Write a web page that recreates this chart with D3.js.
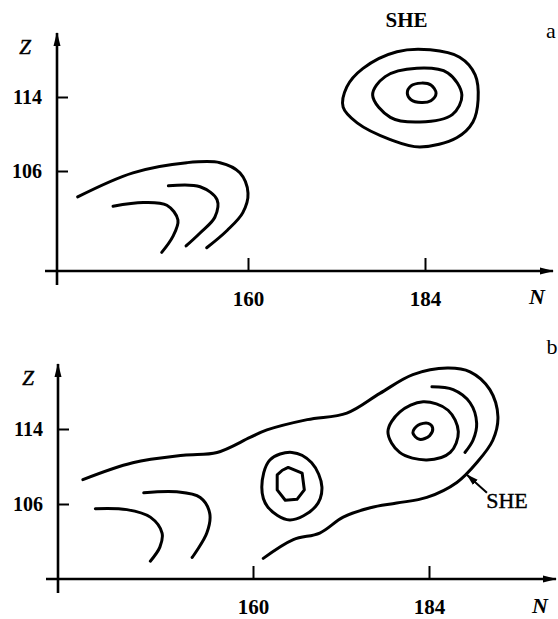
<!DOCTYPE html>
<html>
<head>
<meta charset="utf-8">
<script src="https://cdn.jsdelivr.net/npm/d3@7"></script>
<style>
  html, body { margin: 0; padding: 0; background: #fff; }
  svg { display: block; }
  text { font-family: "Liberation Serif", "DejaVu Serif", serif; fill: #000; }
</style>
</head>
<body>
<svg id="chart" width="558" height="619"></svg>
<script>
// ---- Data (N = neutron number, Z = proton number) ----
const nTicks = [160, 184];
const zTicks = [106, 114];

// Panel a: contours
const aLeft1 = [[136.9,103.2],[144.4,105.8],[151.7,106.9],[156.2,106.9],[158.9,105.8],[160.0,103.6],[159.3,101.5],[157.2,99.6],[154.4,97.7]];
const aLeft2 = [[149.2,104.4],[153.5,104.3],[155.8,102.9],[155.5,101.0],[153.5,99.3],[151.6,97.9]];
const aLeft3 = [[141.7,102.2],[145.8,102.6],[149.0,102.3],[150.5,100.7],[149.8,98.9],[148.3,97.2]];
const aIslandOuter = [[173.4,115.1],[175.6,117.1],[180.2,118.9],[184.7,119.1],[188.7,118.3],[190.8,116.4],[191.2,113.7],[190.5,111.3],[188.3,109.6],[183.3,108.6],[179.3,109.4],[174.8,111.2],[172.9,112.9]];
const aIslandMiddle = [[176.9,114.2],[178.6,116.2],[182.9,117.1],[187.1,116.6],[189.0,114.2],[187.7,112.1],[183.3,111.3],[179.3,111.8]];
const aIslandInner = [[181.6,114.4],[182.1,115.2],[183.5,115.5],[184.8,115.3],[185.5,114.4],[184.8,113.6],[183.5,113.4],[182.1,113.7]];

// Panel b: contours
const bEnvelope = [[136.8,108.6],[143.6,110.4],[150.5,111.2],[155.1,111.5],[159.6,113.1],[161.9,113.9],[167.4,115.0],[172.8,115.7],[177.3,117.8],[181.8,119.8],[186.5,120.5],[189.6,120.1],[192.3,118.2],[193.4,115.3],[192.7,112.8],[190.5,110.4],[187.8,108.3],[183.7,106.7],[179.6,106.1],[176.0,105.6],[172.3,104.6],[169.1,102.9],[165.5,102.2],[161.4,100.2]];
const bLeft2 = [[145.1,107.2],[149.6,107.3],[152.8,106.7],[154.1,105.0],[153.7,102.9],[151.7,100.3]];
const bLeft3 = [[138.5,105.5],[142.8,105.4],[146.0,104.6],[147.6,102.9],[147.3,101.4],[146.0,99.9]];
const bMidOuter = [[161.2,107.8],[162.3,110.7],[165.3,111.5],[168.0,110.4],[169.4,107.8],[168.5,105.7],[165.0,104.3],[162.0,105.7]];
const bMidInner = [[164.0,109.6],[164.8,109.9],[166.7,109.3],[167.0,107.5],[166.0,106.5],[164.4,106.4],[163.3,107.5],[163.3,109.1]];
const bRightOuter = [[178.4,113.7],[180.0,115.8],[183.2,116.9],[186.6,116.0],[188.0,113.7],[186.9,111.5],[183.7,110.7],[180.0,111.5]];
const bRightInner = [[181.8,113.6],[182.5,114.4],[183.9,114.6],[184.5,114.1],[184.1,113.3],[182.7,112.9]];
const bRightArc = [[184.4,118.5],[187.3,118.2],[189.6,116.8],[190.5,114.6],[190.0,112.8],[188.9,111.5]];
const bSheArrow = [[191.9,107.2],[189.2,109.1]];

// ---- Drawing ----
const svg = d3.select("#chart");

const defs = svg.append("defs");
defs.append("marker").attr("id", "axArrow")
  .attr("viewBox", "0 0 14 8").attr("refX", 13).attr("refY", 4)
  .attr("markerWidth", 14).attr("markerHeight", 8)
  .attr("markerUnits", "userSpaceOnUse").attr("orient", "auto")
  .append("path").attr("d", "M0,0.5 L14,4 L0,7.5 Z").attr("fill", "#000");
defs.append("marker").attr("id", "smallArrow")
  .attr("viewBox", "0 0 12 8").attr("refX", 11).attr("refY", 4)
  .attr("markerWidth", 12).attr("markerHeight", 8)
  .attr("markerUnits", "userSpaceOnUse").attr("orient", "auto")
  .append("path").attr("d", "M0,0.5 L12,4 L0,7.5 Z").attr("fill", "#000");

const panels = [
  { id: "a", xr: [248, 425], yr: [171, 97], axX: 57, axY: 271,
    yTop: 33, yBot: 285, xLeft: 45, xRight: 553,
    zLabel: [25, 47], nLabel: [537, 296], letter: [551, 30],
    contours: [aLeft1, aLeft2, aLeft3], closed: [aIslandOuter, aIslandMiddle, aIslandInner] },
  { id: "b", xr: [253, 429], yr: [504, 429], axX: 58, axY: 579,
    yTop: 364, yBot: 593, xLeft: 46, xRight: 556,
    zLabel: [28, 378], nLabel: [540, 605], letter: [552, 346],
    contours: [bEnvelope, bLeft2, bLeft3, bRightArc], closed: [bMidOuter, bRightOuter, bRightInner], poly: [bMidInner] }
];

const openCurve = d3.curveCatmullRom.alpha(0.5);
const closedCurve = d3.curveCatmullRomClosed.alpha(0.5);

panels.forEach(p => {
  const x = d3.scaleLinear().domain([160, 184]).range(p.xr);
  const y = d3.scaleLinear().domain([106, 114]).range(p.yr);
  const g = svg.append("g");

  // axes lines with arrows
  g.append("line").attr("x1", p.axX).attr("y1", p.yBot).attr("x2", p.axX).attr("y2", p.yTop)
    .attr("stroke", "#000").attr("stroke-width", 2.6).attr("marker-end", "url(#axArrow)");
  g.append("line").attr("x1", p.xLeft).attr("y1", p.axY).attr("x2", p.xRight).attr("y2", p.axY)
    .attr("stroke", "#000").attr("stroke-width", 2.6).attr("marker-end", "url(#axArrow)");

  // y axis ticks (inward) and labels
  const yAxis = d3.axisLeft(y).tickValues(zTicks).tickSizeInner(-11).tickSizeOuter(0).tickPadding(15);
  const yg = g.append("g").attr("transform", `translate(${p.axX},0)`).call(yAxis);
  yg.select(".domain").remove();
  yg.selectAll(".tick line").attr("stroke", "#000").attr("stroke-width", 2);
  yg.selectAll(".tick text").attr("font-family", "Liberation Serif").attr("font-size", 20)
    .attr("font-weight", "bold").attr("fill", "#000").attr("dy", "0.34em");

  // x axis ticks (upward) and labels
  const xAxis = d3.axisBottom(x).tickValues(nTicks).tickSizeInner(-13).tickSizeOuter(0).tickPadding(20);
  const xg = g.append("g").attr("transform", `translate(0,${p.axY})`).call(xAxis);
  xg.select(".domain").remove();
  xg.selectAll(".tick line").attr("stroke", "#000").attr("stroke-width", 2);
  xg.selectAll(".tick text").attr("font-family", "Liberation Serif").attr("font-size", 21)
    .attr("font-weight", "bold").attr("fill", "#000");

  // axis titles
  g.append("text").attr("x", p.zLabel[0]).attr("y", p.zLabel[1]).attr("text-anchor", "middle")
    .attr("dominant-baseline", "central").attr("font-style", "italic")
    .attr("font-size", 21).attr("stroke", "#000").attr("stroke-width", 0.5).text("Z");
  g.append("text").attr("x", p.nLabel[0]).attr("y", p.nLabel[1]).attr("text-anchor", "middle")
    .attr("dominant-baseline", "central").attr("font-style", "italic").attr("font-weight", "bold")
    .attr("font-size", 22).text("N");
  g.append("text").attr("x", p.letter[0]).attr("y", p.letter[1]).attr("text-anchor", "middle")
    .attr("dominant-baseline", "central").attr("font-size", 22).text(p.id);

  const lineOpen = d3.line().x(d => x(d[0])).y(d => y(d[1])).curve(openCurve);
  const lineClosed = d3.line().x(d => x(d[0])).y(d => y(d[1])).curve(closedCurve);
  const linePoly = d3.line().x(d => x(d[0])).y(d => y(d[1])).curve(d3.curveLinearClosed);

  const style = sel => sel.attr("fill", "none").attr("stroke", "#000").attr("stroke-width", 3)
    .attr("stroke-linecap", "round").attr("stroke-linejoin", "round");

  g.selectAll("path.open").data(p.contours).join("path").attr("class", "open")
    .attr("d", lineOpen).call(style);
  g.selectAll("path.closed").data(p.closed).join("path").attr("class", "closed")
    .attr("d", lineClosed).call(style);
  if (p.poly) {
    g.selectAll("path.poly").data(p.poly).join("path").attr("class", "poly")
      .attr("d", linePoly).call(style);
  }

  if (p.id === "a") {
    g.append("text").attr("x", x(181.5)).attr("y", 20).attr("text-anchor", "middle")
      .attr("dominant-baseline", "central").attr("font-weight", "bold").attr("font-size", 21).text("SHE");
  } else {
    g.append("line")
      .attr("x1", x(bSheArrow[0][0])).attr("y1", y(bSheArrow[0][1]))
      .attr("x2", x(bSheArrow[1][0])).attr("y2", y(bSheArrow[1][1]))
      .attr("stroke", "#000").attr("stroke-width", 2).attr("marker-end", "url(#smallArrow)");
    g.append("text").attr("x", x(191.8)).attr("y", y(106.4)).attr("text-anchor", "start")
      .attr("dominant-baseline", "central").attr("font-size", 22)
      .attr("stroke", "#000").attr("stroke-width", 0.4).text("SHE");
  }
});
</script>
</body>
</html>
